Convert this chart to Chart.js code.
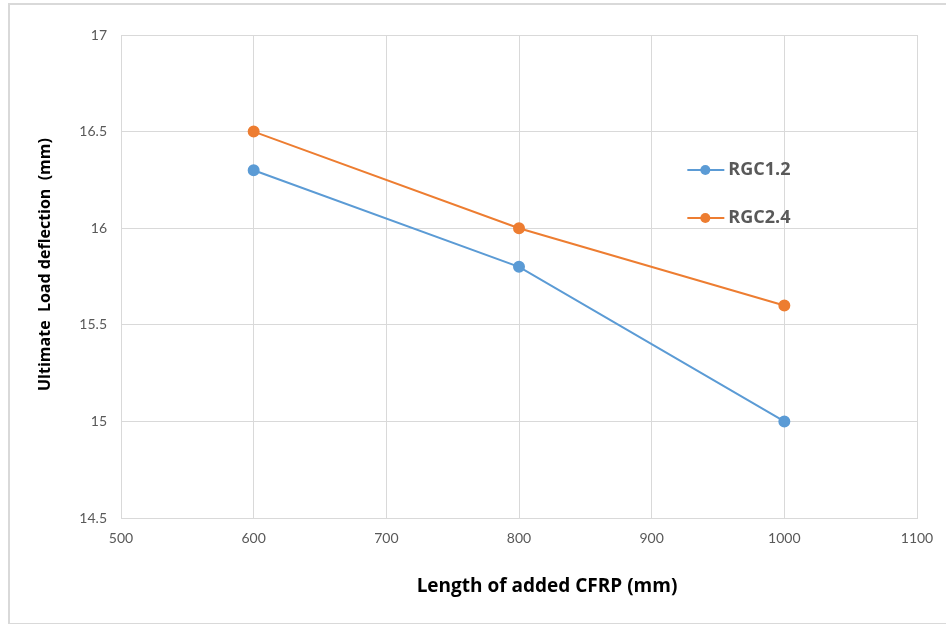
<!DOCTYPE html>
<html>
<head>
<meta charset="utf-8">
<script src="https://cdn.jsdelivr.net/npm/chart.js@4/dist/chart.umd.min.js"></script>
<style>
  html, body { margin: 0; padding: 0; background: #fff; }
  #wrap { width: 946px; height: 624px; position: relative; }
</style>
</head>
<body>
<div id="wrap"><canvas id="c" width="946" height="624"></canvas></div>
<script>
// CFRP lengths (mm) and ultimate load deflection (mm) per specimen group
const lengths = [600, 800, 1000];
const rgc12 = [16.3, 15.8, 15.0];
const rgc24 = [16.5, 16.0, 15.6];
const seriesNames = ['RGC1.2', 'RGC2.4'];
const xTicks = [500, 600, 700, 800, 900, 1000, 1100];
const yTicks = [14.5, 15, 15.5, 16, 16.5, 17];
const xTitle = 'Length of added CFRP (mm)';
const yTitle = 'Ultimate  Load deflection  (mm)';

const FONT = 'Lato, "Open Sans", "DejaVu Sans", sans-serif';
const TITLE_FONT = '"Open Sans", Lato, "DejaVu Sans", sans-serif';
const GRID = '#d9d9d9';
const TICK = '#595959';

// Outer frame around the whole chart
const framePlugin = {
  id: 'frame',
  beforeDraw(chart) {
    const ctx = chart.ctx;
    ctx.save();
    ctx.fillStyle = '#fff';
    ctx.fillRect(0, 0, chart.width, chart.height);
    ctx.strokeStyle = '#d9d9d9';
    ctx.lineWidth = 2;
    ctx.strokeRect(9, 4, chart.width + 10, chart.height - 4);
    ctx.restore();
  }
};

// Legend inside the plot plus both axis titles
const annotations = {
  id: 'annotations',
  afterDraw(chart) {
    const ctx = chart.ctx;
    const xs = chart.scales.x, ys = chart.scales.y;
    const x0 = xs.getPixelForValue(1000) - 97;
    ctx.save();
    chart.data.datasets.forEach((ds, i) => {
      const y = ys.top + 135 + i * 48;
      ctx.strokeStyle = ds.borderColor;
      ctx.lineWidth = 2;
      ctx.beginPath();
      ctx.moveTo(x0, y);
      ctx.lineTo(x0 + 37, y);
      ctx.stroke();
      ctx.fillStyle = ds.backgroundColor;
      ctx.beginPath();
      ctx.arc(x0 + 18, y, 5, 0, Math.PI * 2);
      ctx.fill();
      ctx.fillStyle = TICK;
      ctx.font = 'bold 18px ' + TITLE_FONT;
      ctx.textBaseline = 'middle';
      ctx.textAlign = 'left';
      ctx.fillText(ds.label, x0 + 41, y);
    });

    ctx.fillStyle = '#000';
    ctx.font = 'bold 19px ' + TITLE_FONT;
    ctx.textAlign = 'center';
    ctx.textBaseline = 'middle';
    ctx.fillText(xTitle, (xs.left + xs.right) / 2 + 28, xs.bottom - 37);

    ctx.translate(45, (ys.top + ys.bottom) / 2 - 12);
    ctx.rotate(-Math.PI / 2);
    ctx.font = 'bold 16px ' + TITLE_FONT;
    ctx.fillText(yTitle, 0, 0);
    ctx.restore();
  }
};

new Chart(document.getElementById('c'), {
  type: 'line',
  data: {
    datasets: [
      {
        label: seriesNames[0],
        data: lengths.map((x, i) => ({ x, y: rgc12[i] })),
        borderColor: '#5b9bd5',
        backgroundColor: '#5b9bd5',
        borderWidth: 2,
        pointRadius: 5,
        pointHoverRadius: 5,
        tension: 0
      },
      {
        label: seriesNames[1],
        data: lengths.map((x, i) => ({ x, y: rgc24[i] })),
        borderColor: '#ed7d31',
        backgroundColor: '#ed7d31',
        borderWidth: 2,
        pointRadius: 5,
        pointHoverRadius: 5,
        tension: 0
      }
    ]
  },
  options: {
    responsive: false,
    animation: false,
    layout: { padding: { left: 0, top: 35, right: 29, bottom: 0 } },
    plugins: {
      legend: { display: false },
      tooltip: { enabled: false }
    },
    scales: {
      x: {
        type: 'linear',
        min: 500,
        max: 1100,
        afterBuildTicks(scale) { scale.ticks = xTicks.map(v => ({ value: v })); },
        afterFit(scale) { scale.height = 106; },
        grid: { color: GRID, lineWidth: 1, drawTicks: false },
        border: { color: GRID, width: 1 },
        ticks: {
          color: TICK,
          font: { family: FONT, size: 14 },
          padding: 12,
          callback: v => String(v)
        }
      },
      y: {
        type: 'linear',
        min: 14.5,
        max: 17,
        afterBuildTicks(scale) { scale.ticks = yTicks.map(v => ({ value: v })); },
        afterFit(scale) { scale.width = 121; },
        grid: { color: GRID, lineWidth: 1, drawTicks: false },
        border: { color: GRID, width: 1 },
        ticks: {
          color: TICK,
          font: { family: FONT, size: 14 },
          padding: 14,
          callback: v => String(v)
        }
      }
    }
  },
  plugins: [framePlugin, annotations]
});
</script>
</body>
</html>
